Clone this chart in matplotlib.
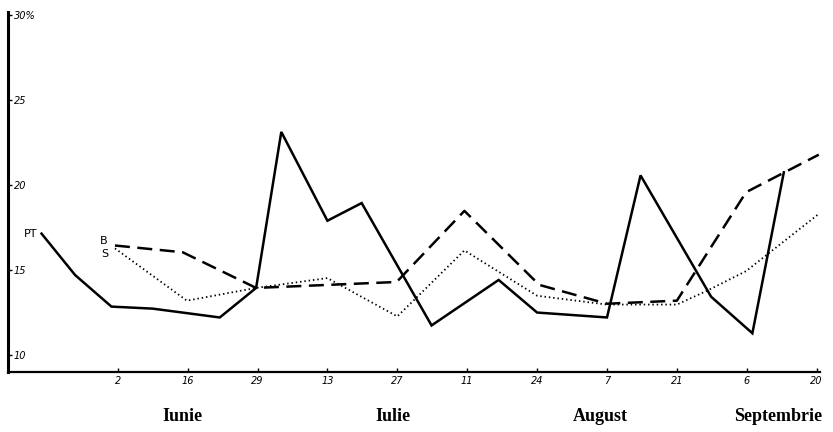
import matplotlib.pyplot as plt

# pozitii pe axa x (unitati = intervale intre etichete)
tick_labels = ["2", "16", "29", "13", "27", "11", "24", "7", "21", "6", "20"]
months = ["Iunie", "Iulie", "August", "Septembrie"]
month_x = [0.93, 3.94, 6.91, 9.45]

# serie PT (linie continua)
pt_x = [-1.09, -0.61, -0.09, 0.5, 1.46, 1.98, 2.34, 3.0, 3.49, 4.49, 5.45, 6.0, 7.0, 7.48, 8.49, 9.08, 9.53]
pt_y = [17.15, 14.71, 12.85, 12.73, 12.21, 13.95, 23.14, 17.91, 18.95, 11.74, 14.42, 12.5, 12.21, 20.58, 13.43, 11.28, 20.76]

# serie B (linie intrerupta)
b_x = [-0.04, 0.93, 1.98, 3.99, 4.96, 6.03, 7.0, 8.0, 8.99, 10.03]
b_y = [16.45, 16.05, 13.95, 14.3, 18.49, 14.13, 13.02, 13.2, 19.59, 21.8]

# serie S (punctata)
s_x = [-0.04, 0.99, 1.98, 3.0, 4.0, 4.96, 6.0, 7.0, 8.0, 8.43, 8.99, 10.03]
s_y = [16.28, 13.2, 13.95, 14.53, 12.27, 16.16, 13.49, 12.97, 12.97, 13.78, 14.94, 18.31]

y_ticks = [10, 15, 20, 25, 30]
y_labels = ["10", "15", "20", "25", "30%"]

fig = plt.figure(figsize=(8.33, 4.32), dpi=100)
ax = fig.add_axes([0.0096, 0.139, 0.975, 0.833])

ax.plot(pt_x, pt_y, color="black", lw=1.8, solid_joinstyle="miter")
ax.plot(b_x, b_y, color="black", lw=1.8, dashes=(6, 3))
ax.plot(s_x, s_y, color="black", lw=1.3, dashes=(0.8, 1.6))

ax.set_xlim(-1.57, 10.05)
ax.set_ylim(9.0, 30.2)

ax.spines["top"].set_visible(False)
ax.spines["right"].set_visible(False)
ax.spines["left"].set_linewidth(2.2)
ax.spines["bottom"].set_linewidth(1.6)

ax.set_xticks(range(len(tick_labels)))
ax.set_xticklabels(tick_labels, fontsize=7, style="italic")
ax.tick_params(axis="x", direction="in", length=3, width=1, pad=3)

ax.set_yticks(y_ticks)
ax.set_yticklabels(y_labels, fontsize=7, style="italic", ha="left")
ax.tick_params(axis="y", direction="in", length=3, width=1, pad=-4)

for m, mx in zip(months, month_x):
    ax.text(mx, -0.125, m, transform=ax.get_xaxis_transform(),
            ha="center", va="center", fontsize=13, fontweight="bold",
            family="Liberation Serif")

# etichete serii
ax.annotate("PT", (pt_x[0], pt_y[0]), xytext=(-3, 0), textcoords="offset points",
            ha="right", va="center", fontsize=8)
ax.annotate("B", (b_x[0], b_y[0]), xytext=(-5, 3), textcoords="offset points",
            ha="right", va="center", fontsize=8)
ax.annotate("S", (s_x[0], s_y[0]), xytext=(-5, -4), textcoords="offset points",
            ha="right", va="center", fontsize=8)

fig.savefig("out.png", dpi=100)
